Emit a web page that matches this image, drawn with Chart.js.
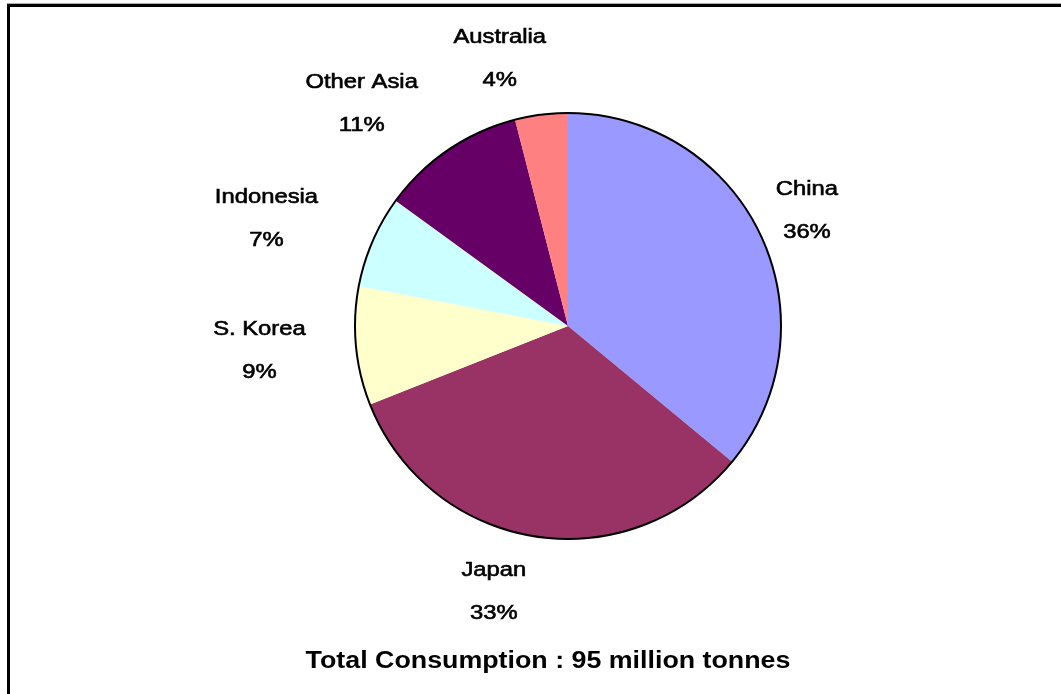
<!DOCTYPE html>
<html>
<head>
<meta charset="utf-8">
<script src="https://cdn.jsdelivr.net/npm/chart.js@4/dist/chart.umd.min.js"></script>
<style>
  html, body { margin: 0; padding: 0; background: #fff; }
  canvas { display: block; }
</style>
</head>
<body>
<canvas id="consumo" width="1061" height="694"></canvas>
<script>
var categories = ['China', 'Japan', 'S. Korea', 'Indonesia', 'Other Asia', 'Australia'];
var shares = [36, 33, 9, 7, 11, 4];
var sliceColours = ['#9999FF', '#993366', '#FFFFCC', '#CCFFFF', '#660066', '#FF8080'];
var totalText = 'Total Consumption : 95 million tonnes';

var FONT = '"Liberation Sans", Arial, sans-serif';
// the picture's text is a bit wider than plain Arial, so stretch it sideways
var SX = 1.19;

// white page with the black frame on the left and top edge
var frame = {
  id: 'frame',
  beforeDraw: function (chart) {
    var ctx = chart.ctx;
    ctx.save();
    ctx.fillStyle = '#fff';
    ctx.fillRect(0, 0, chart.width, chart.height);
    ctx.fillStyle = '#aaa';
    ctx.fillRect(7, 3, chart.width - 7, 1);
    ctx.fillStyle = '#000';
    ctx.fillRect(7, 4, chart.width - 7, 3);
    ctx.fillRect(7, 4, 3, chart.height - 4);
    ctx.restore();
  }
};

function heavyText(ctx, txt, x, y) {
  ctx.fillText(txt, x, y);
  ctx.strokeText(txt, x, y);
}

// black rim round the pie, labels outside each slice, total under it
var pieText = {
  id: 'pieText',
  afterDatasetsDraw: function (chart) {
    var ctx = chart.ctx;
    var meta = chart.getDatasetMeta(0);
    var data = chart.data.datasets[0].data;
    var total = data.reduce(function (a, b) { return a + b; }, 0);
    if (!meta.data.length) { return; }

    var first = meta.data[0];
    ctx.save();
    ctx.beginPath();
    ctx.arc(first.x, first.y, first.outerRadius, 0, Math.PI * 2);
    ctx.lineWidth = 2;
    ctx.strokeStyle = '#000';
    ctx.stroke();
    ctx.restore();

    ctx.save();
    ctx.fillStyle = '#000';
    ctx.strokeStyle = '#000';
    ctx.lineWidth = 0.6;
    ctx.font = '20px ' + FONT;
    meta.data.forEach(function (arc, i) {
      var name = chart.data.labels[i];
      var pct = Math.round(data[i] / total * 100) + '%';
      var w = Math.max(ctx.measureText(name).width, ctx.measureText(pct).width) * SX;
      var mid = (arc.startAngle + arc.endAngle) / 2;
      var c = Math.cos(mid), s = Math.sin(mid);
      var R = arc.outerRadius + 20;
      var x = arc.x + c * R;
      if (c < 0) {
        x += c * 0.8 * w - 30 * Math.abs(s);
      } else {
        x += c * 0.5 * w;
      }
      var y = arc.y + s * R + s * 36;

      ctx.save();
      ctx.translate(x, y);
      ctx.scale(SX, 1);
      ctx.textAlign = 'center';
      ctx.textBaseline = 'alphabetic';
      heavyText(ctx, name, 0, -16);
      heavyText(ctx, pct, 0, 27);
      ctx.restore();
    });

    ctx.save();
    ctx.translate(548, 668);
    ctx.scale(1.165, 1);
    ctx.font = 'bold 23px ' + FONT;
    ctx.textAlign = 'center';
    ctx.textBaseline = 'alphabetic';
    ctx.fillText(totalText, 0, 0);
    ctx.restore();
    ctx.restore();
  }
};

var ctx = document.getElementById('consumo');
new Chart(ctx, {
  type: 'pie',
  data: {
    labels: categories,
    datasets: [
      {
        data: shares,
        backgroundColor: sliceColours,
        borderWidth: 0,
      }
    ]
  },
  options: {
    responsive: false,
    animation: false,
    devicePixelRatio: 1,
    layout: {
      padding: { left: 355, right: 280, top: 113, bottom: 155 }
    },
    plugins: {
      legend: { display: false },
      tooltip: { enabled: false },
      title: { display: false },
    }
  },
  plugins: [frame, pieText]
});
</script>
</body>
</html>
